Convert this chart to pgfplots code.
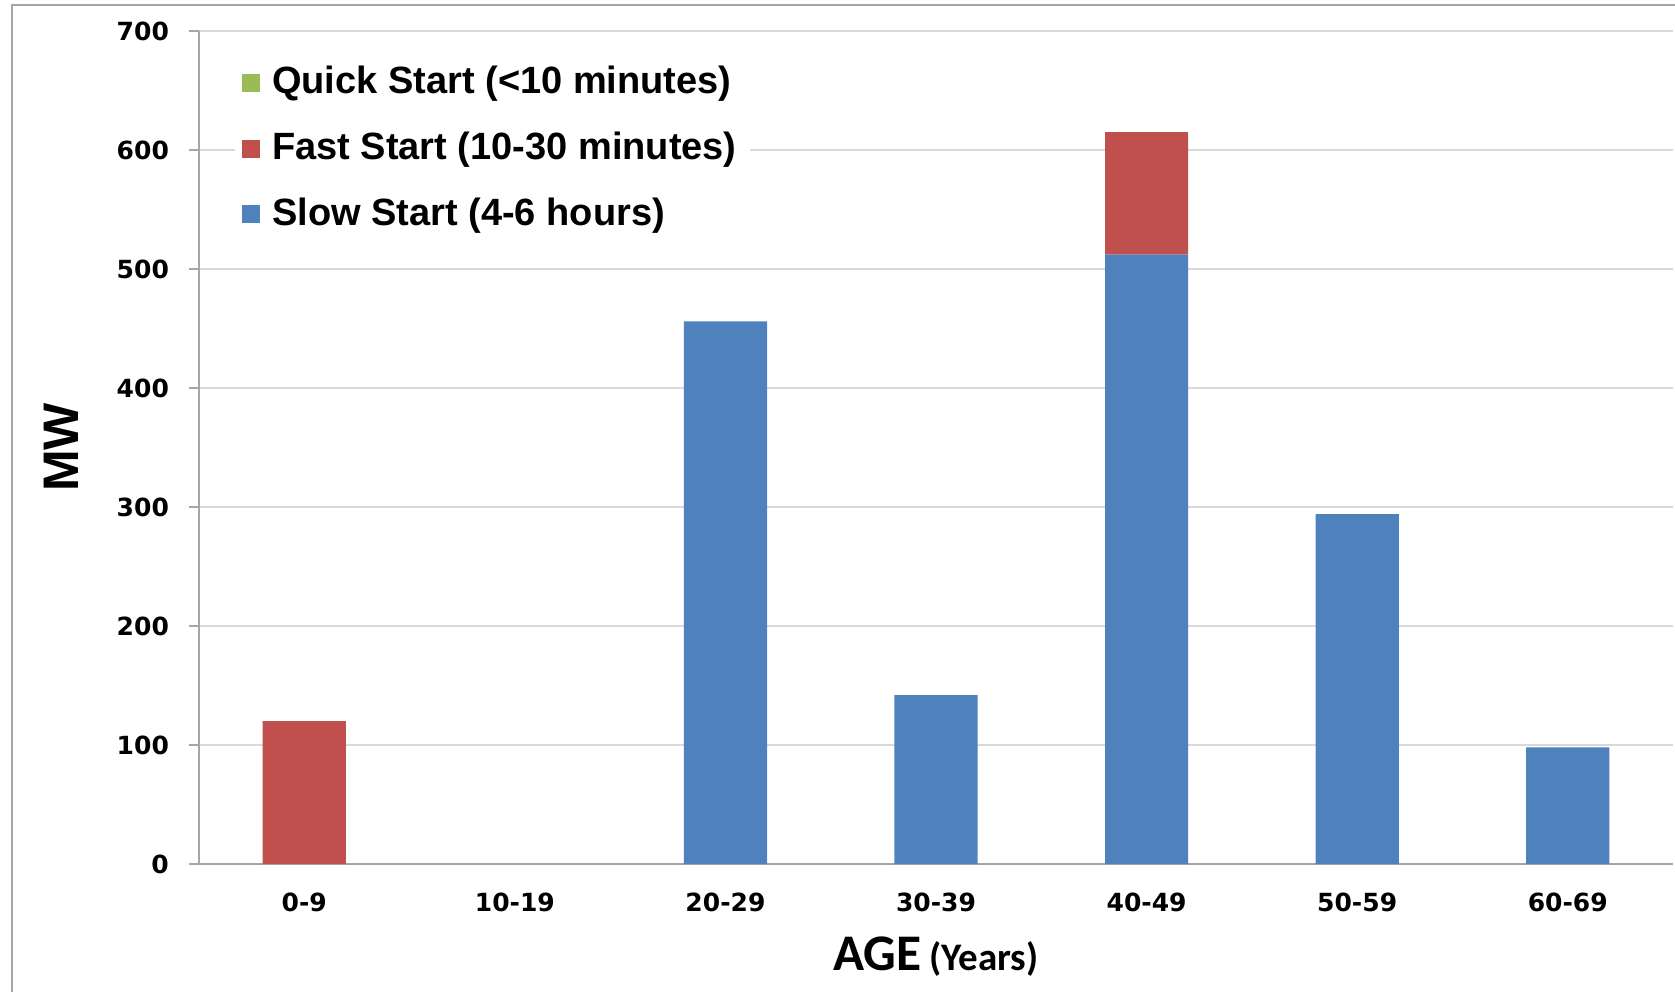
\documentclass[border=0pt]{standalone}
\usepackage{pgfplots}
\pgfplotsset{compat=1.18}
\usepackage{fontspec}
\setmainfont{Liberation Sans}
\newfontfamily\tickfont{DejaVu Sans}
\newfontfamily\agefont{Carlito}
\definecolor{slowc}{HTML}{4F81BD}
\definecolor{fastc}{HTML}{C0504D}
\definecolor{quickc}{HTML}{9BBB59}
\definecolor{gridc}{HTML}{D9D9D9}
\definecolor{axc}{HTML}{A6A6A6}
\begin{document}
\begin{tikzpicture}
\useasboundingbox (0,0) rectangle (502.5pt,297.3pt);
\draw[color=axc, line width=0.6pt] (3.6pt,-20pt) rectangle (530pt,295.8pt);
\begin{axis}[
  name=ax,
  at={(59.7pt,38.1pt)}, anchor=south west,
  scale only axis, width=442.2pt, height=249.9pt,
  ybar stacked, bar width=0.395,
  xmin=-0.5, xmax=6.5, ymin=0, ymax=700,
  xtick={0,...,6},
  xticklabels={0-9,10-19,20-29,30-39,40-49,50-59,60-69},
  extra x ticks={-0.5,0.5,1.5,2.5,3.5,4.5,5.5,6.5},
  extra x tick labels={},
  extra x tick style={major tick length=3pt, tick style={color=axc, line width=0.6pt}, grid=none},
  x tick style={draw=none},
  ytick={0,100,...,700},
  ymajorgrids, grid style={color=gridc, line width=0.6pt},
  y tick style={color=axc, line width=0.5pt},
  major tick length=3pt,
  tick align=outside,
  axis x line*=bottom, axis y line*=left,
  axis line style={color=axc, line width=0.6pt},
  x axis line style={-}, y axis line style={-},
  /pgf/number format/assume math mode=true,
  ticklabel style={font=\tickfont\bfseries\fontsize{7.5}{9}\selectfont, text=black},
  xticklabel style={yshift=-2.1pt},
  yticklabel style={xshift=-2.5pt},
  legend style={at={(axis cs:-0.33,682)}, anchor=north west, draw=none, fill=white,
     font=\bfseries\fontsize{11.4}{13}\selectfont, row sep=6pt, inner sep=2pt},
  legend cell align=left,
  reverse legend,
  legend image code/.code={\fill (0pt,-2.7pt) rectangle (5.5pt,2.7pt); \path (7pt,0pt);},
]
\addplot[fill=slowc, draw=none] coordinates {(0,0) (1,0) (2,456) (3,142) (4,512) (5,294) (6,98)};
\addlegendentry{Slow Start (4-6 hours)}
\addplot[fill=fastc, draw=none] coordinates {(0,120) (1,0) (2,0) (3,0) (4,103) (5,0) (6,0)};
\addlegendentry{Fast Start (10-30 minutes)}
\addlegendimage{fill=quickc, draw=none}
\addlegendentry{Quick Start (<10 minutes)}
\end{axis}
\node[anchor=base, font=\agefont\bfseries] at ([yshift=-31.8pt]ax.south) {{\fontsize{15.4}{17}\selectfont AGE} {\fontsize{11.7}{13}\selectfont (Years)}};
\node[font=\bfseries\fontsize{15}{17}\selectfont, rotate=90] at ([xshift=-41.4pt]ax.west) {MW};
\end{tikzpicture}
\end{document}
